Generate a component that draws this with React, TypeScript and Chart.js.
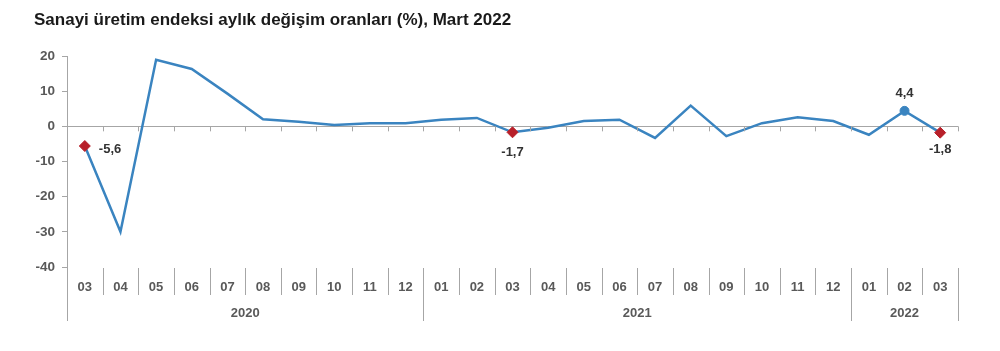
import React, { useEffect, useRef } from "react";
import { Chart, registerables } from "chart.js";

Chart.register(...registerables);

const titleText = "Sanayi üretim endeksi aylık değişim oranları (%), Mart 2022";
const months = ["03", "04", "05", "06", "07", "08", "09", "10", "11", "12", "01", "02", "03", "04", "05", "06", "07", "08", "09", "10", "11", "12", "01", "02", "03"];
const years = ["2020", "2021", "2022"];
const yearSpans = [10, 12, 3];
const values = [-5.6, -30.0, 18.9, 16.3, 9.3, 2.0, 1.3, 0.4, 0.9, 0.9, 1.9, 2.4, -1.7, -0.4, 1.5, 1.9, -3.3, 5.9, -2.8, 0.9, 2.6, 1.5, -2.4, 4.4, -1.8];
const redPoints = [0, 12, 24];
const bluePoints = [23];
const yMin = -40;
const yMax = 20;
const yStep = 10;

const LINE = "#3a84c0";
const RED = "#b8202a";
const AXIS = "#a6a6a6";
const TEXT = "#595959";
const FONT = "'Liberation Sans', Arial, sans-serif";

const fmt = (v: number) => v.toFixed(1).replace(".", ",");

const decor = {
  id: "decor",
  afterDatasetsDraw(chart: any) {
    const ctx = chart.ctx as CanvasRenderingContext2D;
    const x = chart.scales.x;
    const y = chart.scales.y;
    const area = chart.chartArea;
    const n = months.length;
    const step = (x.getPixelForValue(1) - x.getPixelForValue(0));
    const boundary = (i: number) => x.getPixelForValue(i) - step / 2;
    const y0 = y.getPixelForValue(0);
    ctx.save();
    ctx.strokeStyle = AXIS;
    ctx.lineWidth = 1;
    for (let i = 1; i <= n; i++) {
      const bx = Math.round(boundary(i)) + 0.5;
      ctx.beginPath();
      ctx.moveTo(bx, y0);
      ctx.lineTo(bx, y0 + 5);
      ctx.stroke();
    }
    const yearBounds = new Set<number>([0]);
    let acc = 0;
    yearSpans.forEach((s) => { acc += s; yearBounds.add(acc); });
    const top = area.bottom + 1;
    for (let i = 0; i <= n; i++) {
      const bx = Math.round(boundary(i)) + 0.5;
      const long = yearBounds.has(i);
      ctx.beginPath();
      ctx.moveTo(bx, i === 0 ? area.bottom : top);
      ctx.lineTo(bx, long ? area.bottom + 54 : area.bottom + 28);
      ctx.stroke();
    }
    ctx.fillStyle = TEXT;
    ctx.font = `bold 13px ${FONT}`;
    ctx.textAlign = "center";
    ctx.textBaseline = "middle";
    months.forEach((m, i) => {
      ctx.fillText(m, x.getPixelForValue(i), area.bottom + 20);
    });
    let start = 0;
    years.forEach((yr, k) => {
      const end = start + yearSpans[k];
      const cx = (boundary(start) + boundary(end)) / 2;
      ctx.fillText(yr, cx, area.bottom + 46);
      start = end;
    });
    ctx.fillStyle = "#333333";
    ctx.font = `bold 13px ${FONT}`;
    const lab = (i: number, dx: number, dy: number, align: CanvasTextAlign) => {
      ctx.textAlign = align;
      ctx.fillText(fmt(values[i]), x.getPixelForValue(i) + dx, y.getPixelForValue(values[i]) + dy);
    };
    lab(0, 14, 3, "left");
    lab(12, 0, 20, "center");
    lab(23, 0, -17, "center");
    lab(24, 0, 17, "center");
    ctx.restore();
  },
};

export default function App() {
  const ref = useRef<HTMLCanvasElement | null>(null);
  useEffect(() => {
    if (!ref.current) return;
    const chart = new Chart(ref.current, {
      type: "line",
      data: {
        labels: months.map((m, i) => `${i}-${m}`),
        datasets: [
          {
            data: values,
            borderColor: LINE,
            borderWidth: 2.5,
            tension: 0,
            pointRadius: (c: any) => (redPoints.includes(c.dataIndex) ? 5.5 : bluePoints.includes(c.dataIndex) ? 4.5 : 0),
            pointStyle: (c: any) => (redPoints.includes(c.dataIndex) ? "rectRot" : "circle"),
            pointBackgroundColor: (c: any) => (redPoints.includes(c.dataIndex) ? RED : LINE),
            pointBorderColor: (c: any) => (redPoints.includes(c.dataIndex) ? RED : LINE),
            pointBorderWidth: 1,
          },
        ],
      },
      options: {
        animation: false,
        responsive: true,
        maintainAspectRatio: false,
        layout: { padding: { left: 34, right: 42, top: 0, bottom: 84 } },
        plugins: {
          legend: { display: false },
          tooltip: { enabled: false },
          title: {
            display: true,
            text: titleText,
            align: "start",
            color: "#1a1a1a",
            font: { family: FONT, size: 17, weight: "bold", lineHeight: 1.2 },
            padding: { top: 9.8, bottom: 25.8 },
          },
        },
        scales: {
          x: {
            type: "category",
            display: false,
            offset: true,
          },
          y: {
            min: yMin,
            max: yMax,
            afterFit: (s: any) => { s.width = 33; },
            afterBuildTicks: (s: any) => {
              s.ticks = [];
              for (let v = yMax; v >= yMin; v -= yStep) s.ticks.push({ value: v });
            },
            border: { display: true, color: AXIS, width: 1 },
            grid: {
              drawOnChartArea: true,
              color: (c: any) => (c.tick && c.tick.value === 0 ? AXIS : "rgba(0,0,0,0)"),
              tickColor: AXIS,
              tickLength: 5,
              lineWidth: 1,
            },
            ticks: {
              color: TEXT,
              padding: 7,
              font: { family: FONT, size: 13.5, weight: "bold" },
              callback: (v: any) => String(v),
            },
          },
        },
      },
      plugins: [decor],
    });
    return () => chart.destroy();
  }, []);
  return (
    <div style={{ position: "fixed", left: 0, top: 0, width: 1000, height: 351, background: "#ffffff" }}>
      <canvas ref={ref} />
    </div>
  );
}
